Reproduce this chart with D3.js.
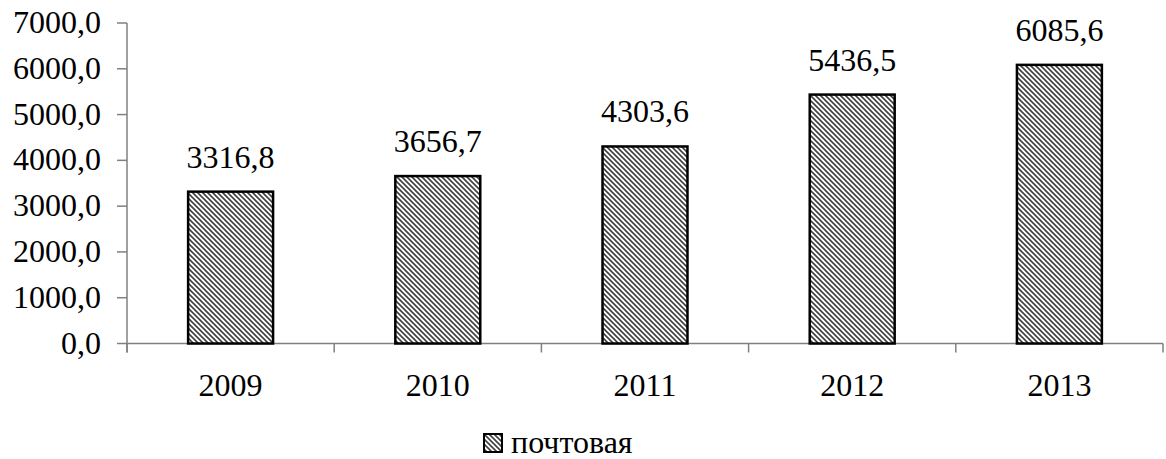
<!DOCTYPE html>
<meta charset="utf-8">
<style>
body { margin: 0; background: #fff; }
text { font-family: "Liberation Serif", "Times New Roman", serif; fill: #000; }
</style>
<svg width="1166" height="459"></svg>
<script src="https://d3js.org/d3.v7.min.js"></script>
<script>

// data
var years = ["2009", "2010", "2011", "2012", "2013"]
var values = [3316.8, 3656.7, 4303.6, 5436.5, 6085.6]
var yTicks = [0, 1000, 2000, 3000, 4000, 5000, 6000, 7000]
var seriesName = "почтовая"

var fmt = function (v) { return d3.format(".1f")(v).replace(".", ",") }

var svg = d3.select("svg")
var plotLeft = 127, plotRight = 1163, plotTop = 23, plotBottom = 343.5
var fontSize = "32px"

var x = d3.scaleBand().domain(years).range([plotLeft, plotRight]).paddingInner(0.59).paddingOuter(0.295)
var xCat = d3.scaleBand().domain(years).range([plotLeft, plotRight])
var y = d3.scaleLinear().domain([0, 7000]).range([plotBottom, plotTop])

// hatch pattern
var defs = svg.append("defs")
var pat = defs.append("pattern")
	.attr("id", "hatch")
	.attr("patternUnits", "userSpaceOnUse")
	.attr("width", 5).attr("height", 5)
pat.append("rect").attr("width", 5).attr("height", 5).attr("fill", "#fff")
pat.append("path")
	.attr("d", "M-1,-1 L6,6 M-1,4 L1,6 M4,-1 L6,1")
	.attr("stroke", "#404040")
	.attr("stroke-width", 1.6)

// y axis
svg.append("line")
	.attr("x1", plotLeft).attr("x2", plotLeft).attr("y1", plotTop).attr("y2", plotBottom + 9)
	.attr("stroke", "#808080").attr("stroke-width", 1.5)
svg.selectAll(".ytick").data(yTicks).enter().append("line")
	.attr("x1", plotLeft - 10).attr("x2", plotLeft)
	.attr("y1", function (d) { return y(d) }).attr("y2", function (d) { return y(d) })
	.attr("stroke", "#808080").attr("stroke-width", 1.5)
svg.selectAll(".ylab").data(yTicks).enter().append("text")
	.attr("x", 101).attr("y", function (d) { return y(d) + 10 })
	.attr("text-anchor", "end")
	.attr("font-family", "Liberation Serif")
	.style("font-size", fontSize)
	.text(fmt)

// x axis
svg.append("line")
	.attr("x1", plotLeft).attr("x2", plotRight).attr("y1", plotBottom).attr("y2", plotBottom)
	.attr("stroke", "#808080").attr("stroke-width", 1.5)
var bounds = years.map(function (d) { return xCat(d) }).concat([plotRight])
svg.selectAll(".xtick").data(bounds).enter().append("line")
	.attr("x1", function (d) { return d }).attr("x2", function (d) { return d })
	.attr("y1", plotBottom).attr("y2", plotBottom + 9)
	.attr("stroke", "#808080").attr("stroke-width", 1.5)
svg.selectAll(".xlab").data(years).enter().append("text")
	.attr("x", function (d) { return xCat(d) + xCat.bandwidth() / 2 })
	.attr("y", 396)
	.attr("text-anchor", "middle")
	.attr("font-family", "Liberation Serif")
	.style("font-size", fontSize)
	.text(function (d) { return d })

// bars
svg.selectAll(".bar").data(values).enter().append("rect")
	.attr("x", function (d, i) { return x(years[i]) })
	.attr("y", function (d) { return y(d) })
	.attr("width", x.bandwidth())
	.attr("height", function (d) { return plotBottom - y(d) })
	.attr("fill", "url(#hatch)")
	.attr("stroke", "#000").attr("stroke-width", 2.5)

// value labels
svg.selectAll(".val").data(values).enter().append("text")
	.attr("x", function (d, i) { return x(years[i]) + x.bandwidth() / 2 })
	.attr("y", function (d) { return y(d) - 24 })
	.attr("text-anchor", "middle")
	.attr("font-family", "Liberation Serif")
	.style("font-size", fontSize)
	.text(fmt)

// legend
svg.append("rect")
	.attr("x", 484).attr("y", 434).attr("width", 18).attr("height", 18)
	.attr("fill", "url(#hatch)").attr("stroke", "#000").attr("stroke-width", 2)
svg.append("text")
	.attr("x", 511).attr("y", 453)
	.attr("font-family", "Liberation Serif")
	.style("font-size", fontSize)
	.text(seriesName)
</script>
